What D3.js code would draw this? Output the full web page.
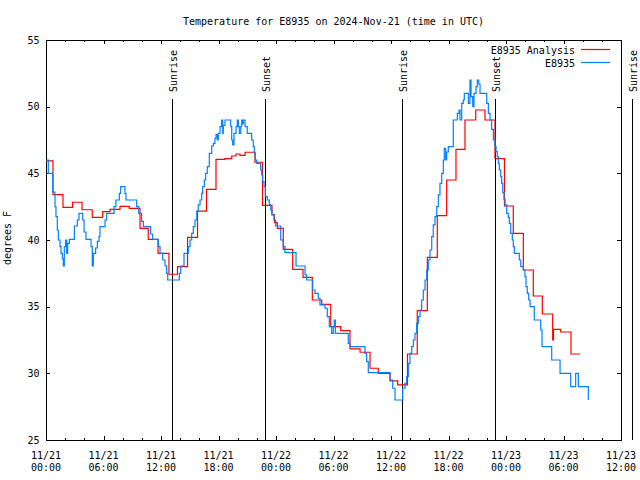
<!DOCTYPE html>
<html>
<head>
<meta charset="utf-8">
<script src="https://cdn.jsdelivr.net/npm/d3@7"></script>
<style>
  html, body { margin: 0; padding: 0; background: #fff; }
  svg { display: block; }
  text { font-family: "DejaVu Sans Mono", "Liberation Mono", monospace; font-size: 10px; fill: #000; }
</style>
</head>
<body>
<svg id="chart" width="640" height="480"></svg>
<script>
// ---------------- data (hours after 2024-11-21 00:00 UTC) ----------------
const titleText = "Temperature for E8935 on 2024-Nov-21 (time in UTC)";
const yLabelText = "degrees F";
const seriesNames = ["E8935 Analysis", "E8935"];
const seriesColors = ["#ff0000", "#0080ff"];

const yTicks = [25, 30, 35, 40, 45, 50, 55];
const xTickHours = [0, 6, 12, 18, 24, 30, 36, 42, 48, 54, 60];
const xTickDates = ["11/21", "11/21", "11/21", "11/21", "11/22", "11/22", "11/22", "11/22", "11/23", "11/23", "11/23"];
const xTickTimes = ["00:00", "06:00", "12:00", "18:00", "00:00", "06:00", "12:00", "18:00", "00:00", "06:00", "12:00"];

const sunLabels = ["Sunrise", "Sunset", "Sunrise", "Sunset", "Sunrise"];
const sunHours = [13.12, 22.89, 37.10, 46.89, 61.13];

const analysisHours = [0.00, 0.73, 1.77, 2.77, 3.76, 4.83, 5.92, 6.68, 7.72, 8.69, 9.81, 10.67, 11.69, 12.83,
  13.72, 14.77, 15.81, 16.75, 17.74, 18.68, 19.38, 19.83, 20.24, 20.77, 21.81, 22.59, 23.58, 23.84, 24.14,
  24.76, 25.74, 26.82, 27.79, 28.77, 29.71, 30.75, 31.72, 32.77, 33.81, 34.67, 35.90, 36.70, 37.72, 38.74,
  39.79, 40.83, 41.81, 42.78, 43.72, 44.84, 45.81, 46.85, 47.84, 48.76, 49.81, 50.85, 51.79, 52.87, 52.96,
  53.71, 54.78, 55.72];
const analysisTemps = [45.93, 43.4, 42.45, 42.83, 42.27, 41.7, 42.13, 42.3, 42.52, 42.37, 40.87, 40.05, 39.0, 37.43,
  38.0, 40.2, 42.17, 43.8, 46.05, 46.1, 46.3, 46.45, 46.35, 46.58, 45.83, 42.6, 41.9, 41.3, 40.87,
  39.3, 37.8, 37.2, 35.5, 35.17, 33.5, 33.2, 31.83, 31.58, 30.38, 30.0, 29.43, 29.13, 31.45, 34.7,
  38.7, 41.83, 44.5, 46.8, 49.0, 49.75, 49.0, 46.1, 42.55, 40.5, 37.75, 35.8, 34.45, 32.5, 33.3,
  33.1, 31.45, 31.45];

const obsHours = [0.00, 0.24, 0.70, 0.94, 1.04, 1.18, 1.29, 1.46, 1.57, 1.71, 1.81, 1.91, 2.05, 2.16, 2.26, 2.44,
  2.96, 3.27, 3.44, 3.83, 3.97, 4.17, 4.70, 4.83, 4.94, 5.18, 5.36, 5.53, 5.63, 6.16, 6.33, 7.10, 7.30, 7.65,
  7.79, 8.24, 8.35, 9.46, 9.67, 9.98, 10.16, 10.92, 11.13, 11.72, 11.90, 12.18, 12.42, 12.59, 12.70, 13.91,
  14.06, 14.40, 14.85, 15.03, 15.20, 15.37, 15.55, 15.73, 15.89, 16.07, 16.25, 16.35, 16.52, 16.66, 16.83,
  17.04, 17.29, 17.46, 17.63, 17.74, 17.88, 17.98, 18.16, 18.33, 18.44, 18.50, 18.68, 19.27, 19.38, 19.48,
  19.62, 19.83, 19.96, 20.07, 20.17, 20.32, 20.42, 20.53, 20.59, 20.77, 21.00, 21.46, 21.63, 21.74, 21.84,
  21.99, 22.40, 22.51, 22.61, 22.75, 22.88, 23.09, 23.30, 23.45, 23.58, 23.79, 23.97, 24.49, 24.76, 24.94,
  26.09, 27.03, 27.20, 27.83, 28.07, 28.41, 28.59, 29.11, 29.35, 29.56, 29.81, 29.98, 30.08, 30.19, 31.54,
  31.72, 33.29, 33.46, 33.63, 35.90, 36.18, 36.42, 37.22, 37.46, 37.64, 37.81, 37.98, 38.16, 38.33, 38.50,
  38.68, 38.85, 39.03, 39.20, 39.37, 39.55, 39.73, 39.89, 40.07, 40.25, 40.41, 40.59, 40.77, 40.94, 41.11,
  41.29, 41.46, 41.56, 41.71, 41.81, 41.98, 42.50, 42.92, 43.10, 43.20, 43.38, 43.54, 43.65, 44.07, 44.24,
  44.35, 44.53, 44.66, 44.87, 45.01, 45.15, 45.29, 45.99, 46.16, 46.34, 46.50, 46.68, 46.85, 46.96, 47.09,
  47.20, 47.30, 47.45, 47.55, 47.66, 47.79, 47.90, 48.07, 48.24, 48.35, 48.49, 48.66, 48.76, 48.87, 49.39,
  49.54, 49.81, 49.98, 50.09, 50.22, 50.37, 50.51, 50.95, 51.62, 51.76, 52.77, 53.64, 54.75, 55.27, 55.55,
  56.59];
const obsTemps = [46.0, 45.0, 43.6, 42.5, 41.75, 40.75, 40.0, 39.5, 39.0, 38.6, 38.05, 39.5, 40.0, 39.0, 39.75, 40.05,
  41.05, 41.5, 42.0, 41.5, 40.6, 40.05, 39.5, 38.05, 39.0, 39.4, 39.9, 40.25, 41.0, 41.5, 42.0, 42.5, 43.0, 43.5,
  44.0, 43.5, 43.0, 42.5, 42.0, 41.4, 41.0, 40.45, 40.05, 39.5, 39.0, 38.5, 38.05, 37.5, 37.0, 37.5,
  38.05, 39.0, 39.5, 40.0, 40.5, 41.0, 41.5, 42.17, 42.63, 43.0, 43.5, 44.0, 44.5, 45.0, 45.5,
  46.5, 47.05, 47.25, 47.63, 47.9, 47.5, 48.0, 48.5, 49.0, 48.0, 48.6, 49.0, 48.5, 47.5, 47.13,
  48.0, 48.5, 49.0, 48.5, 48.0, 48.5, 49.0, 48.7, 49.0, 48.5, 48.0, 47.5, 47.0, 46.5, 46.0,
  45.75, 45.25, 44.88, 44.38, 44.0, 43.25, 43.0, 42.63, 42.25, 41.88, 41.5, 41.05, 40.0, 39.5, 39.05,
  38.05, 37.38, 37.0, 36.25, 36.0, 35.63, 35.13, 34.88, 34.25, 33.5, 33.0, 33.5, 34.0, 33.0, 32.25,
  32.0, 31.5, 30.88, 30.05, 29.5, 28.88, 28.0, 28.88, 29.25, 29.75, 30.75, 31.5, 32.0, 32.5, 33.0,
  33.75, 34.25, 34.75, 35.5, 36.25, 37.0, 37.75, 38.5, 39.25, 40.25, 41.13, 41.75, 42.5, 43.38, 44.25,
  45.0, 46.0, 46.88, 46.0, 46.6, 47.0, 49.0, 49.5, 49.75, 49.0, 50.25, 50.5, 51.0, 50.25, 52.0,
  50.75, 50.0, 51.0, 51.5, 52.0, 51.7, 51.0, 50.25, 49.5, 49.0, 48.3, 47.5, 47.0, 46.63, 46.25,
  45.75, 45.25, 44.75, 44.25, 43.55, 43.05, 42.63, 42.0, 41.7, 41.25, 40.5, 40.0, 39.5, 39.0, 38.5,
  38.0, 37.75, 37.25, 36.5, 36.0, 35.5, 35.0, 34.0, 33.25, 32.0, 31.0, 30.0, 29.0, 30.0, 29.0,
  28.0];

// ---------------- drawing ----------------
const t0 = Date.UTC(2024, 10, 21, 0, 0);
const toDate = h => new Date(t0 + h * 3600e3);

const margin = { left: 46, right: 621, top: 40, bottom: 440 };
const svg = d3.select("#chart");

const x = d3.scaleUtc()
  .domain([toDate(0), toDate(60)])
  .range([margin.left, margin.right]);
const y = d3.scaleLinear()
  .domain([25, 55])
  .range([margin.bottom, margin.top]);

const minorTicks = d3.utcHour.every(2).range(toDate(0), toDate(60.01));
const majorTicks = xTickHours.map(toDate);

// ticks (inward, mirrored)
svg.append("g").attr("transform", `translate(0,${margin.bottom})`)
  .call(d3.axisBottom(x).tickValues(minorTicks).tickSize(-2).tickFormat(""));
svg.append("g").attr("transform", `translate(0,${margin.bottom})`)
  .call(d3.axisBottom(x).tickValues(majorTicks).tickSize(-4).tickFormat(""));
svg.append("g").attr("transform", `translate(0,${margin.top})`)
  .call(d3.axisTop(x).tickValues(minorTicks).tickSize(-2).tickFormat(""));
svg.append("g").attr("transform", `translate(0,${margin.top})`)
  .call(d3.axisTop(x).tickValues(majorTicks).tickSize(-4).tickFormat(""));
svg.append("g").attr("transform", `translate(${margin.left},0)`)
  .call(d3.axisLeft(y).tickValues(yTicks).tickSize(-4).tickFormat(""));
svg.append("g").attr("transform", `translate(${margin.right},0)`)
  .call(d3.axisRight(y).tickValues(yTicks).tickSize(-4).tickFormat(""));
svg.selectAll(".domain").remove();
svg.selectAll(".tick line").attr("stroke", "#000").attr("stroke-width", 1).attr("shape-rendering", "crispEdges");

// border
svg.append("rect")
  .attr("x", margin.left).attr("y", margin.top)
  .attr("width", margin.right - margin.left).attr("height", margin.bottom - margin.top)
  .attr("fill", "none").attr("stroke", "#000").attr("stroke-width", 1)
  .attr("shape-rendering", "crispEdges");

// y tick labels
svg.append("g").selectAll("text").data(yTicks).join("text")
  .attr("x", margin.left - 6.5)
  .attr("y", d => y(d))
  .attr("dy", "0.36em")
  .attr("text-anchor", "end")
  .text(d => d);

// x tick labels (two lines)
const xl = svg.append("g").selectAll("text").data(xTickHours).join("text")
  .attr("text-anchor", "middle");
xl.append("tspan").attr("x", (d) => x(toDate(d))).attr("y", 459).text((d, i) => xTickDates[i]);
xl.append("tspan").attr("x", (d) => x(toDate(d))).attr("y", 471).text((d, i) => xTickTimes[i]);

// title
svg.append("text")
  .attr("x", (margin.left + margin.right) / 2)
  .attr("y", 25)
  .attr("text-anchor", "middle")
  .text(titleText);

// y label
svg.append("text")
  .attr("transform", `translate(11,${(margin.top + margin.bottom) / 2 - 2}) rotate(-90)`)
  .attr("text-anchor", "middle")
  .text(yLabelText);

// sunrise / sunset
const sun = svg.append("g");
sun.selectAll("line").data(sunHours).join("line")
  .attr("x1", d => Math.round(x(toDate(d))) + 0.5).attr("x2", d => Math.round(x(toDate(d))) + 0.5)
  .attr("y1", 99).attr("y2", margin.bottom)
  .attr("stroke", "#000").attr("stroke-width", 1);
sun.selectAll("text").data(sunHours).join("text")
  .attr("transform", d => `translate(${Math.round(x(toDate(d))) + 4.5},92) rotate(-90)`)
  .attr("text-anchor", "start")
  .text((d, i) => sunLabels[i]);

// series
const line = d3.line()
  .x(d => x(toDate(d[0])))
  .y(d => y(d[1]))
  .curve(d3.curveStepAfter);

const analysis = analysisHours.map((h, i) => [h, analysisTemps[i]]);
const obs = obsHours.map((h, i) => [h, obsTemps[i]]);

svg.append("path").datum(analysis)
  .attr("d", line).attr("fill", "none")
  .attr("stroke", seriesColors[0]).attr("stroke-width", 1.2);
svg.append("path").datum(obs)
  .attr("d", line).attr("fill", "none")
  .attr("stroke", seriesColors[1]).attr("stroke-width", 1.2);

// legend
const leg = svg.append("g");
[0, 1].forEach(i => {
  const ly = 49.5 + i * 13;
  leg.append("text").attr("x", 575).attr("y", ly + 4).attr("text-anchor", "end").text(seriesNames[i]);
  leg.append("line").attr("x1", 581).attr("x2", 610).attr("y1", ly).attr("y2", ly)
    .attr("stroke", seriesColors[i]).attr("stroke-width", 1.2);
});
</script>
</body>
</html>
